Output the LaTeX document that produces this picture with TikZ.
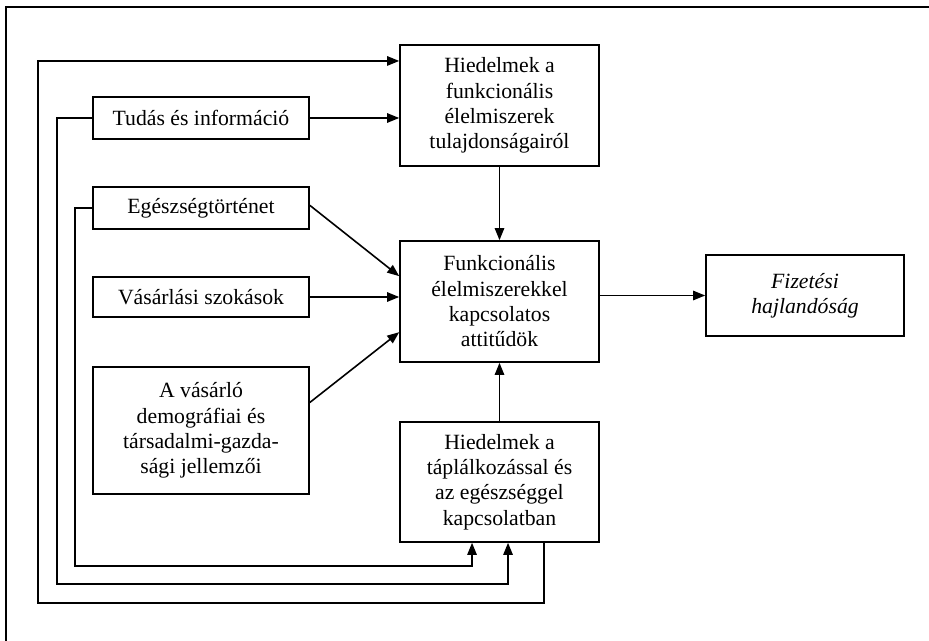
\documentclass[tikz,border=0pt]{standalone}
\usepackage{fontspec}
\setmainfont{Liberation Serif}
\usetikzlibrary{arrows.meta}

\begin{document}
\begin{tikzpicture}[x=0.75pt,y=-0.75pt,line width=1.2pt,
    >={Triangle[length=9pt,width=7pt]},
    box/.style={draw,align=center,inner sep=2pt,font=\fontsize{16.3}{19}\selectfont},
    lbox/.style={box,minimum width=162pt},
    rbox/.style={box,minimum width=149.25pt}]
    \useasboundingbox (0,0) rectangle (929,641);
    \draw (6,641) -- (6,7) -- (929,7);

    \node[rbox,minimum height=90.75pt](hiedfunk) at (499.5,105.5) {Hiedelmek a\\funkcionális\\élelmiszerek\\tulajdonságairól};
    \node[rbox,minimum height=90.75pt](attitud) at (499.5,301.5) {Funkcionális\\élelmiszerekkel\\kapcsolatos\\attitűdök};
    \node[rbox,minimum height=90pt](hiedtapl) at (499.5,482) {Hiedelmek a\\táplálkozással és\\az egészséggel\\kapcsolatban};
    \node[box,minimum width=148.5pt,minimum height=60.75pt,font=\fontsize{16.3}{19}\selectfont\itshape](fizet) at (805,295.5) {Fizetési\\hajlandóság};
    \node[lbox,minimum height=31.5pt](tudas) at (201,118) {Tudás és információ};
    \node[lbox,minimum height=31.5pt](egesz) at (201,208) {Egészségtörténet};
    \node[lbox,minimum height=30pt](vasar) at (201,297) {Vásárlási szokások};
    \node[lbox,minimum height=95.25pt](avas) at (201,430.5) {A vásárló\\demográfiai és\\társadalmi-gazda-\\sági jellemzői};

    \path[->] (tudas.east) edge (tudas.east -| hiedfunk.west);
    \path[->] (hiedfunk) edge (attitud);
    \path[->] (hiedtapl) edge (attitud);
    \path[->] ([yshift=2pt]egesz.east) edge ([yshift=19pt]attitud.west);
    \path[->] (vasar.east) edge (vasar.east -| attitud.west);
    \path[->] ([yshift=21pt]avas.east) edge ([yshift=-23pt]attitud.west);
    \path[->] (attitud.east |- fizet.west) edge (fizet.west);

    % feedback lanes
    \coordinate (outer) at (38,603);
    \coordinate (middle) at (57,584);
    \coordinate (inner) at (75,566);
    \draw[->] ([xshift=33.4pt]hiedtapl.south) |- (outer) |- ([yshift=33.4pt]hiedfunk.west);
    \draw[->] (tudas.west) -| (middle) -| ([xshift=6.4pt]hiedtapl.south);
    \draw[->] (egesz.west) -| (inner) -| ([xshift=-20.6pt]hiedtapl.south);
\end{tikzpicture}
\end{document}
